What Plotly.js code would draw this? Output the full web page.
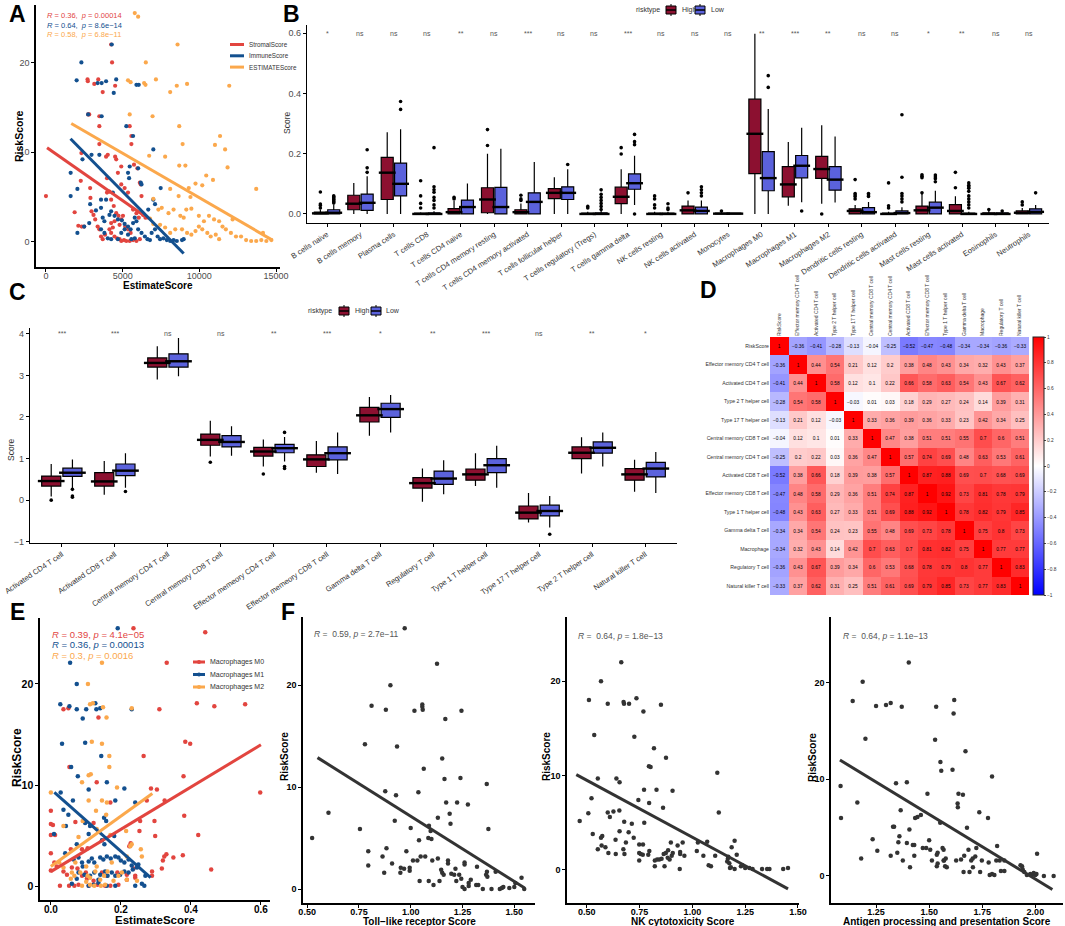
<!DOCTYPE html>
<html><head><meta charset="utf-8">
<script src="https://cdn.plot.ly/plotly-3.0.1.min.js"></script>
<style>body{margin:0;background:#fff}#fig{width:1065px;height:926px}</style>
</head><body><div id="fig"></div><script>
// ---------- Panel A data ----------
const aStromalPts = [[0,5.1],[1870,3.3],[2110,1.8],[2330,1.7],[2490,1.7],[2270,6.8],[2310,9.9],[2750,14.2],[2820,14.2],[2710,18.1],[2730,17.9],[3150,17.6],[3410,18.1],[3480,14.0],[3480,12.9],[3480,10.9],[3700,16.7],[2880,6.0],[2900,4.9],[2970,3.4],[3100,3.0],[3210,2.5],[3370,1.7],[3480,1.4],[3590,0.6],[3700,0.3],[3850,0.8],[3920,9.5],[4030,9.7],[3980,7.1],[3980,5.5],[4140,5.6],[4250,4.7],[4420,4.0],[4250,22.0],[4310,20.0],[4510,17.4],[4510,9.5],[4580,9.2],[4690,7.7],[4910,6.4],[5130,6.0],[4910,8.4],[5460,12.9],[5570,11.8],[5570,10.9],[5740,8.6],[5960,8.2],[6120,6.6],[6180,6.4],[6230,5.1],[4580,3.2],[4730,2.9],[4910,2.5],[5020,2.9],[5170,1.7],[5350,1.4],[5520,1.0],[4470,2.3],[4800,1.9],[4140,1.4],[4250,1.0],[4470,0.6],[4640,0.4],[4800,0.3],[4910,0.1],[5090,0.2],[5240,0.1],[5460,0.1],[5680,0.2],[5900,0.1],[6120,0.3],[4250,2.1],[4360,1.6],[5680,3.6],[5900,3.2],[6050,2.7],[6340,3.0],[6490,2.7],[5350,5.5]];
const aImmunePts = [[1610,7.7],[1610,5.1],[2050,5.9],[2380,9.2],[2310,20.0],[2000,18.0],[2750,14.2],[2970,9.7],[3480,9.7],[3370,17.7],[3630,14.0],[3630,17.7],[3920,17.9],[4420,16.6],[4580,18.1],[4290,22.0],[5240,12.9],[5680,11.8],[5900,17.5],[6050,17.5],[6010,8.2],[5460,8.4],[5350,7.7],[5420,7.1],[7000,10.3],[7480,6.0],[6180,6.6],[6230,6.4],[2880,4.2],[3260,3.5],[3590,3.8],[3700,2.7],[3810,2.3],[4140,3.0],[4250,3.4],[4470,2.9],[4690,2.5],[4950,2.4],[5130,2.0],[5350,1.7],[5520,1.4],[5680,2.1],[5790,2.7],[5900,2.3],[6010,1.4],[6230,1.0],[6450,0.6],[6620,0.3],[6780,0.2],[6890,1.0],[7110,1.4],[7280,0.6],[7440,0.3],[7660,0.4],[7880,0.2],[8100,0.1],[8320,0.2],[8530,0.1],[8870,0.2],[8980,0.3],[3590,1.4],[3810,1.0],[4030,0.4],[4250,0.3],[4690,0.3],[4910,1.0],[3590,4.7],[3920,4.7],[4360,5.5],[2820,2.1],[2490,1.7],[2050,1.0],[7000,4.7],[7110,4.2],[6670,3.6],[5130,1.4],[5350,0.8],[5570,0.3],[5790,0.4]];
const aEstimatePts = [[5790,25.5],[6010,25.1],[8580,22.0],[6510,20.0],[5350,18.0],[5520,17.8],[6400,17.7],[6490,17.5],[7170,18.1],[8100,16.7],[8530,17.4],[9200,17.6],[11950,17.4],[5460,14.2],[6950,14.0],[8690,12.9],[11350,11.8],[11020,10.8],[11680,10.3],[8910,10.9],[6730,9.6],[7770,9.5],[8690,8.5],[9090,8.5],[11840,8.3],[13710,5.9],[10450,7.4],[10890,6.9],[9750,6.5],[10190,6.3],[9310,6.0],[8100,5.9],[8650,5.1],[9420,5.0],[7000,4.8],[7330,3.6],[7550,3.8],[7990,3.2],[8320,3.6],[8760,2.9],[8980,2.7],[9150,3.6],[9480,3.7],[9970,2.9],[10300,2.3],[10630,2.9],[10960,2.5],[11290,2.3],[11510,1.7],[6780,2.6],[7000,2.0],[7440,1.9],[7770,1.6],[8100,1.0],[8430,1.4],[8870,1.4],[9200,1.0],[9480,0.8],[9750,1.2],[10520,1.0],[10740,0.6],[11070,0.8],[11290,0.3],[11730,1.4],[12060,1.0],[12390,0.6],[12720,0.6],[13050,0.2],[13380,0.1],[13710,0.1],[14040,0.2],[14370,0.1],[14700,0.2],[14150,1.0],[12170,2.5],[9970,1.7],[10190,1.4]];
const aStromalLineX = [70, 6670], aStromalLineY = [10.5, 2.6];
const aImmuneLineX = [1600, 8980], aImmuneLineY = [11.5, -1.3];
const aEstimateLineX = [1650, 14760], aEstimateLineY = [13.2, 0.2];
const aSeriesNames = ['StromalScore', 'ImmuneScore', 'ESTIMATEScore'];
const aStats = ['<i>R</i> = 0.36,  <i>p</i> = 0.00014', '<i>R</i> = 0.64,  <i>p</i> = 8.6e\u221214', '<i>R</i> = 0.58,  <i>p</i> = 6.8e\u221211'];
const aTicks = [0, 5000, 10000, 15000];

// ---------- Panel B data ----------
const bCells = ['B cells naive','B cells memory','Plasma cells','T cells CD8','T cells CD4 naive','T cells CD4 memory resting','T cells CD4 memory activated','T cells follicular helper','T cells regulatory (Tregs)','T cells gamma delta','NK cells resting','NK cells activated','Monocytes','Macrophages M0','Macrophages M1','Macrophages M2','Dendritic cells resting','Dendritic cells activated','Mast cells resting','Mast cells activated','Eosinophils','Neutrophils'];
const bSig = ['*','ns','ns','ns','**','ns','***','ns','ns','***','ns','ns','ns','**','***','**','ns','ns','*','**','ns','ns'];
const bHighQ1  = [0,0.014,0.048,0,0,0.004,0,0.051,0,0.034,0,0,0,0.134,0.057,0.118,0,0,0,0,0,0];
const bHighMed = [0.002,0.034,0.137,0,0.006,0.048,0.006,0.07,0,0.057,0,0.012,0.001,0.266,0.098,0.149,0.01,0,0.012,0.01,0,0.004];
const bHighQ3  = [0.006,0.062,0.188,0.003,0.018,0.087,0.014,0.084,0.003,0.089,0.003,0.026,0.003,0.381,0.157,0.191,0.017,0.003,0.026,0.031,0.004,0.01];
const bHighLo  = [0,0,0,0,0,0,0,0,0,0,0,0,0,0,0.027,0.034,0,0,0,0,0,0];
const bHighHi  = [0.015,0.103,0.271,0.006,0.043,0.2,0.035,0.122,0.007,0.148,0.007,0.045,0.007,0.598,0.239,0.294,0.03,0.007,0.066,0.059,0.01,0.02];
const bLowQ1   = [0,0.012,0.06,0,0,0,0,0.048,0,0.082,0,0,0,0.077,0.12,0.079,0,0,0,0,0,0];
const bLowMed  = [0.004,0.037,0.1,0,0.023,0.023,0.04,0.07,0,0.102,0,0.01,0.001,0.119,0.16,0.114,0.006,0.003,0.021,0,0,0.007];
const bLowQ3   = [0.014,0.066,0.169,0.004,0.046,0.088,0.07,0.09,0.004,0.133,0.003,0.023,0.003,0.207,0.194,0.157,0.021,0.01,0.039,0.003,0.004,0.017];
const bLowLo   = [0,0,0,0,0,0,0,0,0,0.03,0,0,0,0,0.039,0.038,0,0,0,0,0,0];
const bLowHi   = [0.03,0.125,0.281,0.009,0.101,0.216,0.172,0.148,0.01,0.193,0.007,0.045,0.005,0.348,0.286,0.257,0.04,0.022,0.077,0.007,0.01,0.03];
const bHighOut = [[0,0.073],[0,0.033],[0,0.028],[0,0.02],[3,0.11],[3,0.06],[3,0.035],[3,0.02],[4,0.05],[4,0.055],[5,0.227],[5,0.28],[6,0.045],[6,0.05],[6,0.062],[8,0.02],[8,0.025],[9,0.199],[9,0.22],[10,0.06],[10,0.05],[10,0.03],[10,0.02],[11,0.07],[12,0.01],[15,0],[16,0.114],[16,0.068],[16,0.063],[16,0.058],[16,0.05],[17,0.103],[17,0.027],[17,0.02],[18,0.13],[18,0.125],[18,0.12],[18,0.07],[19,0.138],[19,0.087],[20,0.015],[21,0.04],[21,0.03]];
const bLowOut = [[0,0.06],[0,0.057],[0,0.054],[0,0.05],[0,0.047],[0,0.043],[0,0.04],[0,0.036],[1,0.138],[1,0.153],[1,0.213],[2,0.347],[2,0.373],[3,0.22],[3,0.09],[3,0.08],[3,0.072],[3,0.055],[3,0.045],[3,0.03],[3,0.02],[7,0.164],[8,0.08],[8,0.065],[8,0.055],[8,0.045],[8,0.035],[8,0.025],[8,0.015],[9,0.23],[9,0.24],[9,0.264],[9,0],[10,0.034],[10,0.02],[10,0.015],[11,0.09],[11,0.08],[11,0.07],[11,0.06],[13,0.459],[13,0.42],[14,0.01],[16,0.068],[16,0.063],[16,0.058],[17,0.329],[17,0.122],[17,0.068],[17,0.06],[17,0.05],[17,0.04],[18,0.129],[18,0.123],[18,0.117],[18,0.107],[19,0.103],[19,0.095],[19,0.09],[19,0.085],[19,0.075],[19,0.06],[19,0.05],[19,0.04],[19,0.03],[19,0.02],[20,0.01],[21,0.07]];

// ---------- Panel C data ----------
const cCells = ['Activated CD4 T cell','Activated CD8 T cell','Central memory CD4 T cell','Central memory CD8 T cell','Effector memeory CD4 T cell','Effector memeory CD8 T cell','Gamma delta T cell','Regulatory T cell','Type 1 T helper cell','Type 17 T helper cell','Type 2 T helper cell','Natural killer T cell'];
const cSig = ['***','***','ns','ns','**','***','*','**','***','ns','**','*'];
const cHighQ1  = [0.34,0.34,3.2,1.32,1.06,0.81,1.88,0.29,0.48,-0.45,1.0,0.48];
const cHighMed = [0.46,0.45,3.3,1.45,1.17,0.98,2.04,0.41,0.62,-0.3,1.14,0.62];
const cHighQ3  = [0.58,0.66,3.42,1.59,1.27,1.09,2.23,0.54,0.75,-0.14,1.28,0.76];
const cHighLo  = [0.09,0.13,2.9,1.05,0.81,0.66,1.55,-0.04,0.34,-0.54,0.64,0.2];
const cHighHi  = [0.87,0.94,3.7,1.91,1.46,1.42,2.48,0.76,1.13,0.17,1.51,0.97];
const cLowQ1   = [0.57,0.59,3.2,1.28,1.14,0.97,1.99,0.38,0.66,-0.38,1.13,0.56];
const cLowMed  = [0.66,0.71,3.34,1.4,1.25,1.13,2.19,0.52,0.84,-0.26,1.26,0.76];
const cLowQ3   = [0.77,0.87,3.52,1.55,1.34,1.28,2.33,0.70,1.0,-0.12,1.4,0.91];
const cLowLo   = [0.29,0.3,2.98,1.07,0.93,0.63,1.63,0.14,0.3,-0.66,0.81,0.17];
const cLowHi   = [0.98,1.13,3.9,1.78,1.52,1.63,2.53,0.96,1.31,0.1,1.63,1.16];
const cHighOut = [[0,0.0],[3,0.91],[4,0.63]];
const cLowOut  = [[0,0.26],[0,0.1],[0,0.07],[1,0.21],[4,1.63],[4,0.81],[4,0.76],[9,-0.82]];
const groupNames = ['High', 'Low'];

// ---------- Panel D data ----------
const dLabels = ['RiskScore','Effector memory CD4 T cell','Activated CD4 T cell','Type 2 T helper cell','Type 17 T helper cell','Central memory CD8 T cell','Central memory CD4 T cell','Activated CD8 T cell','Effector memory CD8 T cell','Type 1 T helper cell','Gamma delta T cell','Macrophage','Regulatory T cell','Natural killer T cell'];
const dCorr = [
 [1,-0.36,-0.41,-0.28,-0.13,-0.04,-0.25,-0.52,-0.47,-0.48,-0.34,-0.34,-0.36,-0.33],
 [-0.36,1,0.44,0.54,0.21,0.12,0.2,0.38,0.48,0.43,0.34,0.32,0.43,0.37],
 [-0.41,0.44,1,0.58,0.12,0.1,0.22,0.66,0.58,0.63,0.54,0.43,0.67,0.62],
 [-0.28,0.54,0.58,1,-0.03,0.01,0.03,0.18,0.29,0.27,0.24,0.14,0.39,0.31],
 [-0.13,0.21,0.12,-0.03,1,0.33,0.36,0.39,0.36,0.33,0.23,0.42,0.34,0.25],
 [-0.04,0.12,0.1,0.01,0.33,1,0.47,0.38,0.51,0.51,0.55,0.7,0.6,0.51],
 [-0.25,0.2,0.22,0.03,0.36,0.47,1,0.57,0.74,0.69,0.48,0.63,0.53,0.61],
 [-0.52,0.38,0.66,0.18,0.39,0.38,0.57,1,0.87,0.88,0.69,0.7,0.68,0.69],
 [-0.47,0.48,0.58,0.29,0.36,0.51,0.74,0.87,1,0.92,0.73,0.81,0.78,0.79],
 [-0.48,0.43,0.63,0.27,0.33,0.51,0.69,0.88,0.92,1,0.78,0.82,0.79,0.85],
 [-0.34,0.34,0.54,0.24,0.23,0.55,0.48,0.69,0.73,0.78,1,0.75,0.8,0.73],
 [-0.34,0.32,0.43,0.14,0.42,0.7,0.63,0.7,0.81,0.82,0.75,1,0.77,0.77],
 [-0.36,0.43,0.67,0.39,0.34,0.6,0.53,0.68,0.78,0.79,0.8,0.77,1,0.83],
 [-0.33,0.37,0.62,0.31,0.25,0.51,0.61,0.69,0.79,0.85,0.73,0.77,0.83,1]];
const dBarTicks = [-1,-0.8,-0.6,-0.4,-0.2,0,0.2,0.4,0.6,0.8,1];

// ---------- Panel E data ----------
const eM0Pts = [[0.236,25.5],[0.441,25.1],[0.331,22.1],[0.417,18.1],[0.467,17.8],[0.555,18.0],[0.31,17.5],[0.036,17.5],[0.05,17.6],[0.136,16.7],[0.384,14.3],[0.398,14.1],[0.265,12.9],[0.053,11.8],[0.379,10.9],[0.131,10.3],[0.286,9.7],[0.303,9.6],[0.274,8.5],[0.325,8.5],[0.17,8.3],[0.598,9.3],[0.0,7.5],[0.381,7.0],[0.0,6.2],[0.006,6.1],[0.255,6.5],[0.296,6.5],[0.253,5.5],[0.07,6.4],[0.122,6.3],[0.0,5.1],[0.012,5.1],[0.421,5.1],[0.298,5.0],[0.224,4.0],[0.228,4.3],[0.057,3.7],[0.089,3.7],[0.105,3.8],[0.0,3.3],[0.33,3.2],[0.324,3.0],[0.32,2.6],[0.35,2.9],[0.377,3.1],[0.01,2.4],[0.017,2.0],[0.0,1.6],[0.036,1.5],[0.046,1.2],[0.06,1.9],[0.076,1.8],[0.089,1.1],[0.103,0.8],[0.122,0.6],[0.133,0.2],[0.026,0.1],[0.052,0.1],[0.067,0.1],[0.079,0.2],[0.108,0.1],[0.155,0.1],[0.17,0.1],[0.193,0.2],[0.217,0.7],[0.217,1.2],[0.241,0.9],[0.241,1.1],[0.289,1.1],[0.289,1.5],[0.317,1.8],[0.458,1.7],[0.19,1.4],[0.146,1.4],[0.16,1.1],[0.236,1.8],[0.1,1.4]];
const eM1Pts = [[0.191,25.5],[0.055,22.1],[0.074,20.0],[0.027,18.0],[0.053,17.8],[0.127,18.1],[0.13,17.5],[0.141,17.6],[0.074,17.5],[0.101,17.5],[0.091,16.6],[0.231,17.5],[0.032,14.1],[0.098,14.2],[0.144,12.9],[0.058,11.8],[0.077,10.9],[0.16,10.3],[0.108,9.6],[0.21,9.7],[0.028,9.3],[0.063,8.5],[0.184,8.5],[0.241,8.3],[0.036,7.6],[0.05,7.1],[0.152,6.8],[0.158,6.5],[0.098,6.3],[0.112,6.0],[0.009,5.2],[0.043,6.0],[0.108,5.2],[0.146,4.6],[0.153,4.2],[0.181,5.0],[0.074,4.2],[0.041,3.3],[0.065,2.7],[0.079,2.9],[0.089,2.4],[0.091,2.0],[0.108,2.5],[0.117,2.8],[0.124,2.4],[0.141,2.9],[0.15,2.7],[0.16,3.0],[0.171,2.8],[0.184,3.0],[0.193,2.9],[0.2,2.6],[0.21,2.4],[0.222,2.7],[0.231,2.1],[0.25,2.2],[0.079,1.4],[0.096,1.2],[0.112,1.1],[0.124,1.4],[0.136,0.7],[0.141,1.2],[0.155,1.5],[0.162,1.1],[0.174,1.4],[0.184,1.1],[0.198,1.2],[0.21,1.5],[0.222,1.4],[0.234,1.7],[0.246,1.9],[0.27,1.1],[0.108,0.1],[0.122,0.2],[0.136,0.4],[0.16,0.1],[0.184,0.1],[0.241,0.1],[0.26,0.3],[0.267,0.1],[0.074,0.8],[0.06,0.3]];
const eM2Pts = [[0.0,9.3],[0.146,22.1],[0.106,20.0],[0.112,18.0],[0.12,18.1],[0.149,17.7],[0.231,17.6],[0.159,16.7],[0.117,14.3],[0.146,14.1],[0.167,12.9],[0.108,11.0],[0.114,11.1],[0.167,11.8],[0.089,10.3],[0.189,9.8],[0.108,8.5],[0.146,8.5],[0.16,8.3],[0.036,6.0],[0.091,6.5],[0.129,7.5],[0.158,7.1],[0.131,5.7],[0.079,4.9],[0.17,5.1],[0.215,5.5],[0.231,4.2],[0.227,4.0],[0.257,3.7],[0.024,2.4],[0.036,1.9],[0.06,1.4],[0.057,0.8],[0.067,1.1],[0.084,1.4],[0.101,2.0],[0.105,1.1],[0.112,0.9],[0.127,1.5],[0.131,2.0],[0.141,0.7],[0.152,1.1],[0.101,0.5],[0.112,0.2],[0.089,0.1],[0.124,0.1],[0.162,1.5],[0.179,0.6],[0.193,1.1],[0.203,1.4],[0.217,0.7],[0.246,0.6],[0.143,0.1],[0.155,0.2],[0.07,2.4],[0.174,2.4],[0.26,3.0],[0.217,3.0]];
const eM0LineX = [0.0, 0.6], eM0LineY = [1.5, 14.0];
const eM1LineX = [0.01, 0.285], eM1LineY = [9.3, 0.9];
const eM2LineX = [0.0, 0.29], eM2LineY = [2.0, 9.2];
const eSeriesNames = ['Macrophages M0', 'Macrophages M1', 'Macrophages M2'];
const eStats = ['<i>R</i> = 0.39, <i>p</i> = 4.1e\u221205', '<i>R</i> = 0.36, <i>p</i> = 0.00013', '<i>R</i> = 0.3, <i>p</i> = 0.0016'];

// ---------- Panel F data ----------
const f1Pts = [[0.971,25.6],[1.127,22.1],[0.902,20.0],[0.811,18.0],[0.88,17.6],[1.018,17.5],[1.056,18.1],[1.056,17.9],[1.058,17.6],[1.167,16.7],[1.245,17.5],[0.779,14.2],[0.934,14.0],[1.152,12.8],[1.063,11.8],[1.163,10.8],[1.24,10.9],[1.367,10.3],[0.877,9.6],[0.929,9.2],[1.037,9.5],[1.171,8.5],[1.224,8.5],[1.276,8.3],[0.603,7.5],[1.131,7.0],[1.188,7.4],[1.192,6.4],[0.923,6.7],[0.755,5.9],[1.0,6.0],[1.375,5.9],[1.088,6.2],[1.096,5.7],[1.085,5.0],[1.1,4.9],[1.04,4.8],[0.524,5.0],[0.795,3.7],[0.864,3.2],[0.883,4.0],[0.979,3.7],[0.795,2.3],[0.91,2.5],[0.952,2.1],[0.968,2.0],[0.995,2.1],[0.995,1.8],[0.872,1.6],[0.95,1.6],[1.011,2.8],[1.032,2.8],[1.048,3.2],[1.07,3.2],[1.104,2.8],[1.131,3.0],[1.043,0.8],[1.087,0.8],[1.11,0.4],[1.139,0.8],[1.147,1.9],[1.152,1.6],[1.159,1.4],[1.18,2.8],[1.18,2.5],[1.196,1.5],[1.216,2.0],[1.22,0.8],[1.21,1.4],[1.234,1.4],[1.244,1.0],[1.26,2.4],[1.26,2.6],[1.25,0.2],[1.26,0.0],[1.28,0.6],[1.28,0.3],[1.29,0.9],[1.316,0.4],[1.326,0.4],[1.32,2.2],[1.348,0.0],[1.364,1.4],[1.368,1.7],[1.37,1.2],[1.39,0.0],[1.41,1.7],[1.43,0.0],[1.44,0.1],[1.447,0.2],[1.476,0.1],[1.5,0.2],[1.505,0.6],[1.535,1.1],[1.548,0.0]];
const f2Pts = [[0.466,5.2],[0.51,18.0],[0.535,14.3],[0.567,20.0],[0.599,17.6],[0.663,22.0],[0.674,17.8],[0.676,17.6],[0.7,17.6],[0.735,18.2],[0.768,16.8],[0.851,17.5],[0.725,14.1],[0.818,12.9],[0.875,11.9],[0.794,11.0],[0.802,10.9],[1.118,10.3],[0.552,9.7],[0.64,9.7],[0.655,9.3],[0.522,7.6],[0.771,8.5],[0.83,8.5],[0.906,8.4],[0.744,7.4],[0.795,7.1],[0.861,6.6],[1.125,6.1],[0.507,6.0],[0.599,6.1],[0.626,6.2],[0.609,5.6],[0.654,6.3],[0.677,5.1],[0.713,4.9],[0.772,5.0],[0.655,4.1],[0.636,3.2],[0.698,4.0],[0.722,3.4],[0.528,3.8],[0.567,3.4],[0.573,3.6],[0.552,2.2],[0.57,2.6],[0.588,2.4],[0.602,1.8],[0.637,1.7],[0.673,2.2],[0.685,2.9],[0.678,1.7],[0.748,2.7],[0.766,2.7],[0.748,1.8],[0.755,1.7],[0.765,1.6],[0.748,1.0],[0.796,2.0],[0.791,1.6],[0.822,1.0],[0.833,1.1],[0.843,1.1],[0.854,1.2],[0.822,0.4],[0.864,1.7],[0.874,1.8],[0.885,2.1],[0.868,0.4],[0.892,1.1],[0.883,1.3],[0.898,2.9],[0.902,1.5],[0.907,1.8],[0.93,2.6],[0.942,1.9],[0.942,1.7],[0.954,2.9],[0.962,1.5],[0.94,0.1],[1.026,2.9],[1.021,2.0],[1.052,1.5],[1.07,3.0],[1.077,0.5],[1.088,0.4],[1.108,1.5],[1.165,0.9],[1.168,1.2],[1.17,1.4],[1.175,0.7],[1.178,0.2],[1.182,0.3],[1.186,2.4],[1.2,3.1],[1.2,0.1],[1.21,1.6],[1.23,0.4],[1.236,0.5],[1.25,0.2],[1.27,0.2],[1.285,0.1],[1.33,0.1],[1.354,0.1],[1.365,0.1],[1.43,0.1],[1.453,0.2]];
const f3Pts = [[1.083,9.3],[1.085,6.0],[1.14,18.1],[1.187,20.1],[1.162,7.6],[1.2,14.2],[1.18,1.8],[1.234,3.8],[1.256,2.6],[1.25,17.6],[1.297,17.7],[1.319,17.9],[1.319,2.1],[1.33,5.1],[1.335,5.1],[1.344,9.6],[1.35,2.4],[1.355,3.5],[1.36,4.1],[1.366,6.8],[1.371,17.5],[1.376,1.6],[1.395,3.4],[1.395,9.7],[1.404,22.1],[1.407,4.8],[1.41,0.9],[1.423,3.2],[1.43,3.2],[1.43,2.1],[1.434,6.0],[1.445,6.1],[1.461,6.3],[1.47,2.9],[1.486,2.9],[1.492,8.5],[1.5,3.7],[1.505,2.7],[1.513,1.6],[1.528,14.1],[1.533,17.5],[1.536,2.2],[1.54,2.4],[1.536,1.0],[1.54,1.3],[1.552,5.5],[1.553,11.8],[1.557,10.9],[1.563,2.9],[1.568,2.7],[1.568,1.6],[1.57,1.6],[1.578,1.8],[1.575,1.0],[1.583,0.9],[1.61,11.0],[1.615,16.8],[1.618,18.2],[1.627,1.6],[1.634,7.5],[1.635,7.1],[1.638,8.5],[1.65,1.7],[1.659,8.4],[1.662,0.4],[1.665,2.1],[1.671,12.9],[1.678,5.0],[1.685,2.7],[1.69,0.4],[1.698,1.6],[1.705,1.8],[1.706,0.9],[1.717,2.0],[1.722,2.9],[1.736,6.6],[1.74,0.4],[1.748,1.6],[1.777,6.0],[1.78,1.4],[1.785,0.1],[1.796,0.2],[1.807,0.1],[1.796,10.3],[1.82,3.1],[1.816,1.6],[1.832,1.6],[1.838,0.5],[1.854,0.5],[1.854,1.6],[1.93,1.1],[1.937,1.0],[1.94,0.7],[1.948,0.4],[1.96,0.1],[1.976,0.2],[1.984,0.1],[1.992,0.3],[2.0,0.1],[2.005,0.2],[2.008,2.3],[2.04,0.0],[2.086,0.0]];
const f1LineX = [0.55, 1.55], f1LineY = [12.9, 0.1];
const f2LineX = [0.45, 1.453], f2LineY = [10.1, -2.0];
const f3LineX = [1.08, 2.08], f3LineY = [12.0, -1.4];
const fTitles = ['Toll\u2212like receptor Score', 'NK cytotoxicity Score', 'Antigen processing and presentation Score'];
const fStats = ['<i>R</i> =  0.59, <i>p</i> = 2.7e\u221211', '<i>R</i> =  0.64, <i>p</i> = 1.8e\u221213', '<i>R</i> =  0.64, <i>p</i> = 1.1e\u221213'];

// ---------- Layout helpers ----------
const W = 1065, H = 926;
const FONT = 'Liberation Sans, Arial, sans-serif';
const cRed = '#E2453F', cBlue = '#13508F', cOrange = '#FBA84C';
const cHigh = '#8C1030', cLow = '#5B62DC';
const xd = (a, b) => [a / W, b / W];
const yd = (top, bot) => [1 - bot / H, 1 - top / H];
const px = v => v / W, py = v => 1 - v / H;
const xs = p => p.map(d => d[0]), ys = p => p.map(d => d[1]);

const traces = [], ann = [], shapes = [];

function axBase(extra) {
  return Object.assign({showline: true, linecolor: 'black', linewidth: 1.2, ticks: 'outside', ticklen: 3,
    tickcolor: 'black', tickwidth: 1, showgrid: false, zeroline: false, automargin: false, ticklabeloverflow: 'allow',
    tickfont: {size: 9, color: '#4d4d4d', family: FONT}}, extra);
}
function label(text, x0, y0, size, opts) {
  ann.push(Object.assign({xref: 'paper', yref: 'paper', x: px(x0), y: py(y0), text: text, showarrow: false,
    xanchor: 'center', yanchor: 'middle', font: {size: size, color: 'black', family: FONT}}, opts || {}));
}
function pline(x0, y0, x1, y1, color, w) {
  shapes.push({type: 'line', xref: 'paper', yref: 'paper', x0: px(x0), y0: py(y0), x1: px(x1), y1: py(y1),
    line: {color: color, width: w}});
}
function lineLegend(names, colors, x0, y0, step, keyLen, size, dot) {
  names.forEach((n, i) => {
    const yy = y0 + step * i;
    pline(x0, yy, x0 + keyLen, yy, colors[i], 3);
    if (dot) shapes.push({type: 'circle', xref: 'paper', yref: 'paper', x0: px(x0 + keyLen / 2 - 2), x1: px(x0 + keyLen / 2 + 2),
      y0: py(yy - 2), y1: py(yy + 2), fillcolor: colors[i], line: {width: 0}});
    label(n, x0 + keyLen + 3, yy, size, {xanchor: 'left', font: {size: size, color: '#333', family: FONT}});
  });
}
function boxLegend(x0, y0, keyXs, textXs, size) {
  label('risktype', x0, y0, size, {xanchor: 'left', font: {size: size, color: '#333', family: FONT}});
  [cHigh, cLow].forEach((c, i) => {
    const kx = keyXs[i];
    shapes.push({type: 'rect', xref: 'paper', yref: 'paper', x0: px(kx), x1: px(kx + 10), y0: py(y0 + 4), y1: py(y0 - 4),
      fillcolor: c, line: {color: 'black', width: 1}});
    pline(kx, y0, kx + 10, y0, 'black', 1.5);
    pline(kx + 5, y0 - 4, kx + 5, y0 - 6, 'black', 1);
    pline(kx + 5, y0 + 4, kx + 5, y0 + 6, 'black', 1);
    label(groupNames[i], textXs[i], y0, size, {xanchor: 'left', font: {size: size, color: '#333', family: FONT}});
  });
}

// ---- Panel A ----
[[aStromalPts, cRed], [aImmunePts, cBlue], [aEstimatePts, cOrange]].forEach(([pts, c]) => {
  traces.push({type: 'scatter', mode: 'markers', x: xs(pts), y: ys(pts), xaxis: 'x', yaxis: 'y',
    marker: {color: c, size: 4.2}, showlegend: false, hoverinfo: 'skip'});
});
[[aStromalLineX, aStromalLineY, cRed], [aImmuneLineX, aImmuneLineY, cBlue], [aEstimateLineX, aEstimateLineY, cOrange]].forEach(([lx, ly, c], i) => {
  traces.push({type: 'scatter', mode: 'lines', x: lx, y: ly, xaxis: 'x', yaxis: 'y', name: aSeriesNames[i],
    line: {color: c, width: 3}, showlegend: false, hoverinfo: 'skip'});
});
aStats.forEach((t, i) => label(t, 45, 16 + 9.2 * i, 7.5, {xanchor: 'left', font: {size: 7.5, color: [cRed, cBlue, cOrange][i], family: FONT}}));
lineLegend(aSeriesNames, [cRed, cBlue, cOrange], 230, 44.5, 11.3, 14, 6.3, false);
label('<b>EstimateScore</b>', 158, 286, 10);
label('<b>RiskScore</b>', 19, 136, 10.5, {textangle: -90});

// ---- Panel B / C boxes ----
function boxSet(cats, q1, med, q3, lo, hi, outs, off, color, name, xa, ya, widthPx) {
  const pos = cats.map((c, i) => i + off);
  traces.push({type: 'box', x: pos, q1: q1, median: med, q3: q3, lowerfence: lo, upperfence: hi,
    width: 0.36, fillcolor: color, line: {color: 'black', width: 1.2}, whiskerwidth: 0, boxpoints: false,
    name: name, showlegend: false, xaxis: xa, yaxis: ya, hoverinfo: 'skip'});
  traces.push({type: 'scatter', mode: 'markers', x: pos, y: med, xaxis: xa, yaxis: ya, showlegend: false, hoverinfo: 'skip',
    marker: {symbol: 'line-ew', size: widthPx, line: {color: 'black', width: 2.4}}});
  traces.push({type: 'scatter', mode: 'markers', x: outs.map(o => o[0] + off), y: outs.map(o => o[1]), xaxis: xa, yaxis: ya,
    showlegend: false, hoverinfo: 'skip', marker: {color: 'black', size: 3.6}});
}
const bPxPerUnit = (1049 - 307) / 22.2;
boxSet(bCells, bHighQ1, bHighMed, bHighQ3, bHighLo, bHighHi, bHighOut, -0.2, cHigh, 'High', 'x2', 'y2', 0.36 * bPxPerUnit);
boxSet(bCells, bLowQ1, bLowMed, bLowQ3, bLowLo, bLowHi, bLowOut, 0.2, cLow, 'Low', 'x2', 'y2', 0.36 * bPxPerUnit);
bSig.forEach((s, i) => ann.push({xref: 'x2', yref: 'y2', x: i, y: 0.6, text: s, showarrow: false,
  font: {size: 7, color: '#555', family: FONT}}));
boxLegend(634, 10, [666, 695], [680, 709], 7);
label('Score', 287, 123, 8.5, {textangle: -90, font: {size: 8.5, color: '#333', family: FONT}});

const cPxPerUnit = (677 - 30) / 12.2;
boxSet(cCells, cHighQ1, cHighMed, cHighQ3, cHighLo, cHighHi, cHighOut, -0.2, cHigh, 'High', 'x3', 'y3', 0.36 * cPxPerUnit);
boxSet(cCells, cLowQ1, cLowMed, cLowQ3, cLowLo, cLowHi, cLowOut, 0.2, cLow, 'Low', 'x3', 'y3', 0.36 * cPxPerUnit);
cSig.forEach((s, i) => ann.push({xref: 'x3', yref: 'y3', x: i, y: 4.0, text: s, showarrow: false,
  font: {size: 7, color: '#555', family: FONT}}));
boxLegend(306, 311, [339, 371], [353, 384], 7);
label('Score', 11, 450, 8.5, {textangle: -90, font: {size: 8.5, color: '#333', family: FONT}});

// ---- Panel D ----
const dText = dCorr.map(r => r.map(v => String(v).replace('-', '\u2212')));
traces.push({type: 'heatmap', z: dCorr, x: dLabels, y: dLabels, xaxis: 'x4', yaxis: 'y4', zmin: -1, zmax: 1,
  colorscale: [[0, '#0000FF'], [0.5, '#FFFFFF'], [1, '#FF0000']], text: dText, texttemplate: '%{text}',
  textfont: {size: 4.8, color: 'black', family: FONT}, hoverinfo: 'skip',
  colorbar: {x: px(1033), xanchor: 'left', y: py(466), yanchor: 'middle', len: 258 / H, lenmode: 'fraction',
    thickness: 11, outlinewidth: 1, outlinecolor: '#222', tickvals: dBarTicks,
    ticktext: dBarTicks.map(v => String(v).replace('-', '\u2212')), ticks: 'outside', ticklen: 2,
    tickfont: {size: 4.8, family: FONT, color: '#333'}, xpad: 0, ypad: 0}});

// ---- Panel E ----
[[eM0Pts, cRed], [eM1Pts, cBlue], [eM2Pts, cOrange]].forEach(([pts, c]) => {
  traces.push({type: 'scatter', mode: 'markers', x: xs(pts), y: ys(pts), xaxis: 'x5', yaxis: 'y5',
    marker: {color: c, size: 4.5}, showlegend: false, hoverinfo: 'skip'});
});
[[eM0LineX, eM0LineY, cRed], [eM1LineX, eM1LineY, cBlue], [eM2LineX, eM2LineY, cOrange]].forEach(([lx, ly, c], i) => {
  traces.push({type: 'scatter', mode: 'lines', x: lx, y: ly, xaxis: 'x5', yaxis: 'y5', name: eSeriesNames[i],
    line: {color: c, width: 3}, showlegend: false, hoverinfo: 'skip'});
});
eStats.forEach((t, i) => label(t, 50, 634 + 10.5 * i, 9.5, {xanchor: 'left', font: {size: 9.5, color: [cRed, cBlue, cOrange][i], family: FONT}}));
lineLegend(eSeriesNames, [cRed, cBlue, cOrange], 193, 662, 12.5, 12, 7, true);
label('<b>EstimateScore</b>', 155, 920, 11.5);
label('<b>RiskScore</b>', 17, 758, 12, {textangle: -90});

// ---- Panel F ----
[[f1Pts, f1LineX, f1LineY, 'x6', 'y6'], [f2Pts, f2LineX, f2LineY, 'x7', 'y7'], [f3Pts, f3LineX, f3LineY, 'x8', 'y8']].forEach(([pts, lx, ly, xa, ya]) => {
  traces.push({type: 'scatter', mode: 'markers', x: xs(pts), y: ys(pts), xaxis: xa, yaxis: ya,
    marker: {color: '#333333', size: 4.5}, showlegend: false, hoverinfo: 'skip'});
  traces.push({type: 'scatter', mode: 'lines', x: lx, y: ly, xaxis: xa, yaxis: ya,
    line: {color: '#333333', width: 3}, showlegend: false, hoverinfo: 'skip'});
});
[[312, 634], [576, 636], [841, 636]].forEach(([x0, y0], i) => label(fStats[i], x0, y0, 8.5,
  {xanchor: 'left', font: {size: 8.5, color: '#555', family: FONT}}));
[[419, 284], [683, 546], [947, 812]].forEach(([cx, yx], i) => {
  label('<b>' + fTitles[i] + '</b>', cx, 921, 10);
  label('<b>RiskScore</b>', yx, 757, 10, {textangle: -90});
});

// ---- Panel letters ----
[['A', 18, 14], ['B', 291, 14], ['C', 18, 292], ['D', 708, 290], ['E', 18, 612], ['F', 288, 612]].forEach(([t, x0, y0]) =>
  label('<b>' + t + '</b>', x0, y0, 23));

const boldTick = {size: 9, color: 'black', family: FONT, weight: 'bold'};
const catFont = {size: 7.6, color: '#333', family: FONT};

const layout = {
  width: W, height: H, margin: {l: 0, r: 0, t: 0, b: 0}, paper_bgcolor: 'white', plot_bgcolor: 'white',
  font: {family: FONT}, showlegend: false, hovermode: false, annotations: ann, shapes: shapes,
  xaxis: axBase({domain: xd(36, 280), anchor: 'y', range: [-650, 15260], tickvals: aTicks, ticktext: aTicks.map(String), linewidth: 1.6,
    ticklabelstandoff: -3}),
  yaxis: axBase({domain: yd(5, 267), anchor: 'x', range: [-2.8, 26.4], tickvals: [0, 10, 20], linewidth: 1.6}),
  xaxis2: axBase({domain: xd(307, 1049), anchor: 'y2', range: [-0.6, 21.6], tickvals: bCells.map((c, i) => i), ticktext: bCells,
    tickangle: -33, tickfont: catFont}),
  yaxis2: axBase({domain: yd(25, 223), anchor: 'x2', range: [-0.03, 0.627], tickvals: [0, 0.2, 0.4, 0.6], ticktext: ['0.0', '0.2', '0.4', '0.6']}),
  xaxis3: axBase({domain: xd(30, 677), anchor: 'y3', range: [-0.6, 11.6], tickvals: cCells.map((c, i) => i), ticktext: cCells,
    tickangle: -34, tickfont: catFont}),
  yaxis3: axBase({domain: yd(328, 543), anchor: 'x3', range: [-1.03, 4.14], tickvals: [-1, 0, 1, 2, 3, 4]}),
  xaxis4: {domain: xd(770, 1029), anchor: 'y4', side: 'top', tickangle: -90, showgrid: false, zeroline: false, showline: false,
    ticks: '', tickfont: {size: 5, color: '#333', family: FONT}, automargin: false},
  yaxis4: {domain: yd(337, 595), anchor: 'x4', autorange: 'reversed', showgrid: false, zeroline: false, showline: false,
    ticks: '', tickfont: {size: 5.2, color: '#333', family: FONT}, automargin: false},
  xaxis5: axBase({domain: xd(40, 270), anchor: 'y5', range: [-0.031, 0.626], tickvals: [0, 0.2, 0.4, 0.6], ticktext: ['0.0', '0.2', '0.4', '0.6'],
    linewidth: 1.6, ticklabelstandoff: -4, tickfont: {size: 10, color: 'black', family: FONT, weight: 'bold'}}),
  yaxis5: axBase({domain: yd(618, 900), anchor: 'x5', range: [-1.3, 26.5], tickvals: [0, 10, 20], linewidth: 1.6,
    tickfont: {size: 10.5, color: 'black', family: FONT, weight: 'bold'}}),
  xaxis6: axBase({domain: xd(303, 535), anchor: 'y6', range: [0.48, 1.6], tickvals: [0.5, 0.75, 1, 1.25, 1.5], ticktext: ['0.50', '0.75', '1.00', '1.25', '1.50'],
    linewidth: 1.6, ticklabelstandoff: -3, tickfont: boldTick}),
  yaxis6: axBase({domain: yd(617, 903), anchor: 'x6', range: [-1.37, 26.7], tickvals: [0, 10, 20], linewidth: 1.6, tickfont: boldTick}),
  xaxis7: axBase({domain: xd(567, 799), anchor: 'y7', range: [0.406, 1.505], tickvals: [0.5, 0.75, 1, 1.25, 1.5], ticktext: ['0.50', '0.75', '1.00', '1.25', '1.50'],
    linewidth: 1.6, ticklabelstandoff: -3, tickfont: boldTick}),
  yaxis7: axBase({domain: yd(617, 903), anchor: 'x7', range: [-3.5, 26.8], tickvals: [0, 10, 20], linewidth: 1.6, tickfont: boldTick}),
  xaxis8: axBase({domain: xd(831, 1063), anchor: 'y8', range: [1.038, 2.13], tickvals: [1.25, 1.5, 1.75, 2.0], ticktext: ['1.25', '1.50', '1.75', '2.00'],
    linewidth: 1.6, ticklabelstandoff: -3, tickfont: boldTick}),
  yaxis8: axBase({domain: yd(617, 903), anchor: 'x8', range: [-2.8, 26.8], tickvals: [0, 10, 20], linewidth: 1.6, tickfont: boldTick})
};

Plotly.newPlot('fig', traces, layout, {displayModeBar: false, staticPlot: true});
</script></body></html>
